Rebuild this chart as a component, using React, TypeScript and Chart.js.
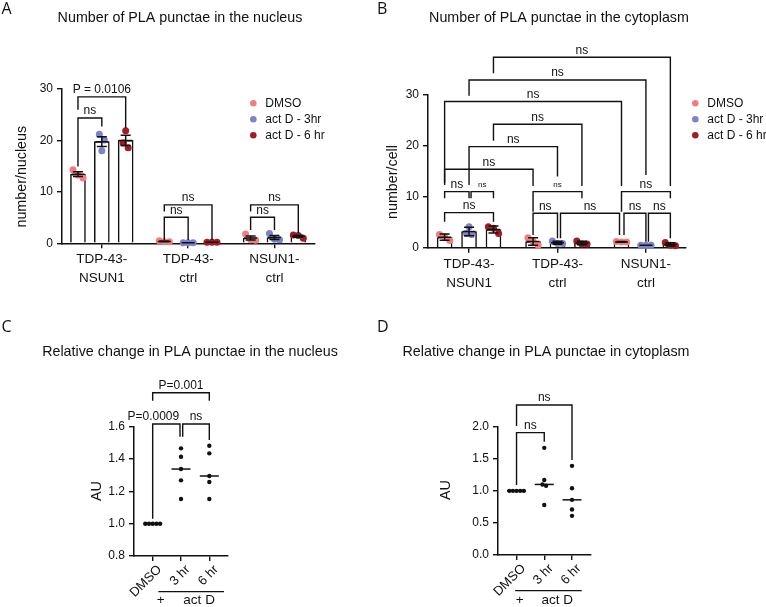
import React, { useEffect, useRef } from 'react';
import { Chart, registerables } from 'chart.js';

Chart.register(...registerables);

const SANS = '"Liberation Sans", Arial, Helvetica, sans-serif';
const LETTER = '"Open Sans", "Liberation Sans", sans-serif';
const INK = '#111111';

// ---- Panels A and B: PLA punctae per nucleus / per cell ----
const groupLabels = [['TDP-43-', 'NSUN1'], ['TDP-43-', 'ctrl'], ['NSUN1-', 'ctrl']];
const treatments = ['DMSO', 'act D - 3hr', 'act D - 6 hr'];
const treatmentColors = ['#F47C80', '#7E82CA', '#A31C24'];

// replicates, indexed [group][replicate]
const nucleusDMSO = [[14.3, 13.3, 12.7], [0.3, 0.5, 0.3], [1.8, 0.7, 0.6]];
const nucleusActD3 = [[21.2, 20.1, 18.0], [0.1, 0.1, 0.1], [1.9, 0.8, 0.7]];
const nucleusActD6 = [[21.9, 19.5, 18.6], [0.2, 0.2, 0.2], [1.6, 1.5, 1.0]];

const cytoDMSO = [[2.6, 2.15, 1.4], [1.95, 1.2, 0.5], [1.1, 1.2, 1.1]];
const cytoActD3 = [[4.1, 2.6, 2.8], [1.3, 0.8, 0.8], [0.5, 0.5, 0.5]];
const cytoActD6 = [[4.1, 3.8, 2.8], [1.3, 0.7, 0.7], [1.0, 0.4, 0.5]];

const nucleusTicks = [0, 10, 20, 30];
const cytoTicks = [0, 10, 20, 30];

// ---- Panels C and D: relative change (AU) ----
const relLabels = ['DMSO', '3 hr', '6 hr'];
const relNucDMSO = [1, 1, 1, 1, 1];
const relNuc3hr = [1.466, 1.414, 1.338, 1.268, 1.153];
const relNuc6hr = [1.482, 1.435, 1.295, 1.258, 1.153];

const relCytoDMSO = [1, 1, 1, 1, 1];
const relCyto3hr = [1.67, 1.17, 1.1, 1.08, 0.78];
const relCyto6hr = [1.39, 1.04, 0.86, 0.71, 0.61];

// bar slots: three treatments per cell line, a wider gap between cell lines
const GROUP_START = [0, 3.62, 7.24];

type Bracket = {
  from: number; to: number; y: number; yFrom: number; yTo: number; text: string;
  small?: boolean; dxFrom?: number; dxTo?: number; labelDx?: number;
};
type TextItem = {
  text: string; x?: number; xData?: number; y: number; size: number; family?: string;
  rotate?: number; align?: CanvasTextAlign; baseline?: CanvasTextBaseline;
};

// significance brackets (bar index / category index, heights in axis units)
const nucleusBrackets: Bracket[] = [
  { from: 0, to: 2, y: 28.46, yFrom: 25.98, yTo: 22.4, text: 'P = 0.0106' },
  { from: 0, to: 1, y: 24.37, yFrom: 14.93, yTo: 22.7, text: 'ns' },
  { from: 3, to: 5, y: 7.47, yFrom: 6.16, yTo: 0.64, text: 'ns' },
  { from: 3, to: 4, y: 5.07, yFrom: 0.64, yTo: 0.64, text: 'ns' },
  { from: 6, to: 8, y: 7.47, yFrom: 6.16, yTo: 1.95, text: 'ns' },
  { from: 6, to: 7, y: 5.07, yFrom: 2.6, yTo: 2.6, text: 'ns' },
];
const cytoBrackets: Bracket[] = [
  { from: 2, to: 8, y: 37.26, yFrom: 34.1, yTo: 12.07, text: 'ns' },
  { from: 1, to: 7, y: 32.8, yFrom: 29.7, yTo: 14.2, text: 'ns' },
  { from: 0, to: 6, y: 28.6, yFrom: 12.66, yTo: 12.07, text: 'ns' },
  { from: 2, to: 5, y: 24.15, yFrom: 20.9, yTo: 12.07, text: 'ns' },
  { from: 1, to: 4, y: 19.77, yFrom: 12.27, yTo: 13.9, text: 'ns' },
  { from: 0, to: 3, y: 15.34, yFrom: 12.27, yTo: 12.07, text: 'ns' },
  { from: 0, to: 1, y: 10.96, yFrom: 9.67, yTo: 9.67, text: 'ns' },
  { from: 1, to: 2, y: 10.96, yFrom: 9.67, yTo: 9.67, text: 'ns', small: true, dxFrom: 2 },
  { from: 0, to: 2, y: 6.85, yFrom: 5.09, yTo: 5.09, text: 'ns' },
  { from: 3, to: 5, y: 10.96, yFrom: 7.05, yTo: 9.67, text: 'ns', small: true },
  { from: 3, to: 4, y: 6.73, yFrom: 2.49, yTo: 1.84, text: 'ns' },
  { from: 4, to: 6, y: 6.73, yFrom: 1.84, yTo: 2.49, text: 'ns', dxFrom: 3, dxTo: -2 },
  { from: 6, to: 8, y: 10.96, yFrom: 7.05, yTo: 9.67, text: 'ns' },
  { from: 6, to: 7, y: 6.73, yFrom: 2.49, yTo: 1.17, text: 'ns', dxFrom: 2.5 },
  { from: 7, to: 8, y: 6.73, yFrom: 1.17, yTo: 1.84, text: 'ns', dxFrom: 2.5 },
];
const relNucBrackets: Bracket[] = [
  { from: 0, to: 2, y: 1.81, yFrom: 1.761, yTo: 1.761, text: 'P=0.001' },
  { from: 0, to: 1, y: 1.617, yFrom: 1.03, yTo: 1.538, text: 'P=0.0009', dxTo: -1, labelDx: -13 },
  { from: 1, to: 2, y: 1.617, yFrom: 1.538, yTo: 1.518, text: 'ns', dxFrom: 1.7 },
];
const relCytoBrackets: Bracket[] = [
  { from: 0, to: 2, y: 2.338, yFrom: 2.01, yTo: 1.48, text: 'ns' },
  { from: 0, to: 1, y: 1.907, yFrom: 1.09, yTo: 1.766, text: 'ns' },
];

const mean = (v: number[]) => v.reduce((a, b) => a + b, 0) / v.length;
const sd = (v: number[]) => {
  const m = mean(v);
  return Math.sqrt(v.reduce((a, b) => a + (b - m) ** 2, 0) / (v.length - 1));
};
const sem = (v: number[]) => sd(v) / Math.sqrt(v.length);
const median = (v: number[]) => {
  const s = [...v].sort((a, b) => a - b);
  const n = s.length;
  return n % 2 ? s[(n - 1) / 2] : (s[n / 2 - 1] + s[n / 2]) / 2;
};

// spread near-equal values sideways so the dots stay visible
function spreadLanes(values: number[], tol: number): number[] {
  const idx = values.map((_, i) => i).sort((a, b) => values[b] - values[a]);
  const lanes = new Array(values.length).fill(0);
  let start = 0;
  for (let k = 1; k <= idx.length; k++) {
    if (k === idx.length || values[idx[k - 1]] - values[idx[k]] >= tol) {
      const n = k - start;
      for (let j = 0; j < n; j++) lanes[idx[start + j]] = j - (n - 1) / 2;
      start = k;
    }
  }
  return lanes;
}

type Overlay = {
  positions: number[];
  errorBars?: { x: number; mean: number; err: number }[];
  medians?: { x: number; y: number }[];
  brackets: Bracket[];
  texts: TextItem[];
  rules?: { x1: number; x2: number; y: number }[];
  legend?: { x: number; y: number; step: number };
};

function overlayPlugin(spec: Overlay) {
  return {
    id: 'overlay',
    afterDatasetsDraw(chart: any) {
      const ctx: CanvasRenderingContext2D = chart.ctx;
      const xs = chart.scales.x;
      const ys = chart.scales.y;
      ctx.save();
      ctx.strokeStyle = INK;
      ctx.lineWidth = 1.5;
      (spec.errorBars || []).forEach((e) => {
        const x = xs.getPixelForValue(e.x);
        const y1 = ys.getPixelForValue(e.mean + e.err);
        const y0 = ys.getPixelForValue(Math.max(e.mean - e.err, 0));
        const ym = ys.getPixelForValue(e.mean);
        ctx.beginPath();
        ctx.moveTo(x, y1); ctx.lineTo(x, y0);
        ctx.moveTo(x - 5, y1); ctx.lineTo(x + 5, y1);
        ctx.moveTo(x - 5, y0); ctx.lineTo(x + 5, y0);
        ctx.moveTo(x - 6.5, ym); ctx.lineTo(x + 6.5, ym);
        ctx.stroke();
      });
      (spec.medians || []).forEach((m) => {
        const x = xs.getPixelForValue(m.x);
        const y = ys.getPixelForValue(m.y);
        ctx.beginPath();
        ctx.moveTo(x - 9.5, y); ctx.lineTo(x + 9.5, y);
        ctx.stroke();
      });
      ctx.restore();
    },
    afterDraw(chart: any) {
      const ctx: CanvasRenderingContext2D = chart.ctx;
      const xs = chart.scales.x;
      const ys = chart.scales.y;
      ctx.save();
      ctx.strokeStyle = INK;
      ctx.fillStyle = INK;
      ctx.lineWidth = 1.4;
      ctx.lineJoin = 'miter';
      spec.brackets.forEach((b) => {
        const x1 = xs.getPixelForValue(spec.positions[b.from]) + (b.dxFrom || 0);
        const x2 = xs.getPixelForValue(spec.positions[b.to]) + (b.dxTo || 0);
        const y = ys.getPixelForValue(b.y);
        ctx.beginPath();
        ctx.moveTo(x1, ys.getPixelForValue(b.yFrom));
        ctx.lineTo(x1, y);
        ctx.lineTo(x2, y);
        ctx.lineTo(x2, ys.getPixelForValue(b.yTo));
        ctx.stroke();
        ctx.font = `${b.small ? 8 : 12}px ${SANS}`;
        ctx.textAlign = 'center';
        ctx.textBaseline = 'alphabetic';
        ctx.fillText(b.text, (x1 + x2) / 2 + (b.labelDx || 0), y - (b.small ? 5 : 3.6));
      });
      ctx.lineWidth = 1.2;
      (spec.rules || []).forEach((r) => {
        ctx.beginPath();
        ctx.moveTo(xs.getPixelForValue(r.x1), r.y);
        ctx.lineTo(xs.getPixelForValue(r.x2), r.y);
        ctx.stroke();
      });
      spec.texts.forEach((t) => {
        const x = t.xData !== undefined ? xs.getPixelForValue(t.xData) : (t.x as number);
        ctx.save();
        ctx.translate(x, t.y);
        if (t.rotate) ctx.rotate((t.rotate * Math.PI) / 180);
        ctx.font = `${t.size}px ${t.family || SANS}`;
        ctx.textAlign = t.align || 'center';
        ctx.textBaseline = t.baseline || 'alphabetic';
        ctx.fillStyle = INK;
        ctx.fillText(t.text, 0, 0);
        ctx.restore();
      });
      if (spec.legend) {
        const lg = spec.legend;
        chart.data.datasets
          .filter((d: any) => d.type === 'scatter')
          .forEach((d: any, i: number) => {
            const y = lg.y + i * lg.step;
            ctx.beginPath();
            ctx.fillStyle = d.backgroundColor;
            ctx.arc(lg.x, y, 3.3, 0, Math.PI * 2);
            ctx.fill();
            ctx.fillStyle = INK;
            ctx.font = `12px ${SANS}`;
            ctx.textAlign = 'left';
            ctx.textBaseline = 'middle';
            ctx.fillText(d.label, lg.x + 12, y + 0.5);
          });
      }
      ctx.restore();
    },
  };
}

type Area = { left: number; right: number; top: number; bottom: number };

function axisCommon(area: Area, w: number, h: number) {
  return {
    y: {
      grid: { drawOnChartArea: false, drawTicks: true, tickLength: 5, color: INK, lineWidth: 1.4 },
      border: { color: INK, width: 1.5 },
      afterFit: (s: any) => { s.width = area.left; },
    },
    x: {
      offset: false,
      grid: { offset: false, drawOnChartArea: false, drawTicks: true, tickLength: 5, color: INK, lineWidth: 1.4 },
      border: { color: INK, width: 1.5 },
      afterFit: (s: any) => { s.height = h - area.bottom; },
    },
    padding: { left: 0, top: area.top, right: w - area.right, bottom: 0 },
  };
}

function barPanel(opts: {
  series: number[][][]; err: (v: number[]) => number; ticks: number[];
  area: Area; w: number; h: number; xRange: [number, number];
  brackets: Bracket[]; texts: TextItem[]; legend: { x: number; y: number; step: number };
  tol: number; lane: number;
}) {
  const positions: number[] = [];
  GROUP_START.forEach((g) => [0, 1, 2].forEach((t) => positions.push(g + t)));
  const errorBars: { x: number; mean: number; err: number }[] = [];
  const bars: any[] = [];
  const dots: any[] = [];
  opts.series.forEach((byGroup, t) => {
    bars.push({
      type: 'bar',
      label: `${treatments[t]} mean`,
      data: byGroup.map((reps, g) => ({ x: GROUP_START[g] + t, y: mean(reps) })),
      backgroundColor: '#ffffff',
      borderColor: INK,
      borderWidth: 1.5,
      barThickness: 15,
      grouped: false,
      order: 2,
    });
    const pts: { x: number; y: number }[] = [];
    byGroup.forEach((reps, g) => {
      const lanes = spreadLanes(reps, opts.tol);
      reps.forEach((v, k) => pts.push({ x: GROUP_START[g] + t + lanes[k] * opts.lane, y: v }));
      errorBars.push({ x: GROUP_START[g] + t, mean: mean(reps), err: opts.err(reps) });
    });
    dots.push({
      type: 'scatter',
      label: treatments[t],
      data: pts,
      backgroundColor: treatmentColors[t],
      borderWidth: 0,
      pointRadius: 3.5,
      clip: false,
      order: 1,
    });
  });
  const ax = axisCommon(opts.area, opts.w, opts.h);
  const centers = GROUP_START.map((g) => g + 1);
  return {
    type: 'bar',
    data: { datasets: [...dots, ...bars] },
    options: {
      responsive: false,
      animation: false,
      devicePixelRatio: 1,
      layout: { padding: ax.padding },
      plugins: { legend: { display: false }, tooltip: { enabled: false }, title: { display: false } },
      scales: {
        x: {
          type: 'linear',
          min: opts.xRange[0],
          max: opts.xRange[1],
          afterBuildTicks: (s: any) => { s.ticks = centers.map((v) => ({ value: v })); },
          ticks: {
            autoSkip: false, maxRotation: 0, minRotation: 0, padding: 2,
            color: INK, font: { family: SANS, size: 13.5, lineHeight: 1.4 },
            callback: (_v: any, i: number) => groupLabels[i],
          },
          ...ax.x,
        },
        y: {
          type: 'linear',
          min: opts.ticks[0],
          max: opts.ticks[opts.ticks.length - 1],
          afterBuildTicks: (s: any) => { s.ticks = opts.ticks.map((v) => ({ value: v })); },
          ticks: { padding: 4, color: INK, font: { family: SANS, size: 12 } },
          ...ax.y,
        },
      },
    },
    plugins: [overlayPlugin({ positions, errorBars, brackets: opts.brackets, texts: opts.texts, legend: opts.legend })],
  };
}

function dotPanel(opts: {
  series: number[][]; ticks: number[]; area: Area; w: number; h: number; xRange: [number, number];
  brackets: Bracket[]; texts: TextItem[]; rule: { x1: number; x2: number; y: number };
  tol: number; lane: number;
}) {
  const medians = opts.series.map((v, i) => ({ x: i, y: median(v) }));
  const datasets = opts.series.map((vals, i) => {
    const lanes = spreadLanes(vals, opts.tol);
    return {
      type: 'scatter',
      label: relLabels[i],
      data: vals.map((v, k) => ({ x: i + lanes[k] * opts.lane, y: v })),
      backgroundColor: INK,
      borderWidth: 0,
      pointRadius: 2.2,
      clip: false,
    };
  });
  const ax = axisCommon(opts.area, opts.w, opts.h);
  return {
    type: 'scatter',
    data: { datasets },
    options: {
      responsive: false,
      animation: false,
      devicePixelRatio: 1,
      layout: { padding: ax.padding },
      plugins: { legend: { display: false }, tooltip: { enabled: false }, title: { display: false } },
      scales: {
        x: {
          type: 'linear',
          min: opts.xRange[0],
          max: opts.xRange[1],
          afterBuildTicks: (s: any) => { s.ticks = relLabels.map((_, i) => ({ value: i })); },
          ticks: {
            autoSkip: false, maxRotation: 45, minRotation: 45, padding: 1, labelOffset: 7,
            color: INK, font: { family: SANS, size: 13 },
            callback: (_v: any, i: number) => relLabels[i],
          },
          ...ax.x,
        },
        y: {
          type: 'linear',
          min: opts.ticks[0],
          max: opts.ticks[opts.ticks.length - 1],
          afterBuildTicks: (s: any) => { s.ticks = opts.ticks.map((v) => ({ value: v })); },
          ticks: { padding: 4, color: INK, font: { family: SANS, size: 12 }, callback: (v: any) => Number(v).toFixed(1) },
          ...ax.y,
        },
      },
    },
    plugins: [overlayPlugin({ positions: [0, 1, 2], medians, brackets: opts.brackets, texts: opts.texts, rules: [opts.rule] })],
  };
}

const panelA = () => barPanel({
  series: [nucleusDMSO, nucleusActD3, nucleusActD6], err: sem, ticks: nucleusTicks,
  area: { left: 62, right: 315, top: 89, bottom: 243.3 }, w: 370, h: 300, xRange: [-0.67, 9.94],
  brackets: nucleusBrackets, legend: { x: 253.3, y: 103.3, step: 16 }, tol: 1.2, lane: 0.21,
  texts: [
    { text: 'A', x: 1.5, y: 14, size: 16, family: LETTER, align: 'left' },
    { text: 'Number of PLA punctae in the nucleus', x: 180, y: 21.7, size: 14.3 },
    { text: 'number/nucleus', x: 22, y: 176.7, size: 14.3, rotate: -90, baseline: 'middle' },
  ],
});

const panelB = () => barPanel({
  series: [cytoDMSO, cytoActD3, cytoActD6], err: sd, ticks: cytoTicks,
  area: { left: 58, right: 316, top: 94.3, bottom: 247.7 }, w: 396, h: 300, xRange: [-0.68, 9.88],
  brackets: cytoBrackets, legend: { x: 325.3, y: 103.3, step: 16 }, tol: 1.2, lane: 0.21,
  texts: [
    { text: 'B', x: 7, y: 14, size: 16, family: LETTER, align: 'left' },
    { text: 'Number of PLA punctae in the cytoplasm', x: 189, y: 21.7, size: 14.3 },
    { text: 'number/cell', x: 23, y: 182, size: 14.3, rotate: -90, baseline: 'middle' },
  ],
});

const panelC = () => dotPanel({
  series: [relNucDMSO, relNuc3hr, relNuc6hr], ticks: [0.8, 1.0, 1.2, 1.4, 1.6],
  area: { left: 134, right: 228, top: 126.7, bottom: 256 }, w: 370, h: 307, xRange: [-0.66, 2.66],
  brackets: relNucBrackets, tol: 0.02, lane: 0.13, rule: { x1: 0.2, x2: 2.52, y: 291.7 },
  texts: [
    { text: 'C', x: 1.5, y: 32, size: 16, family: LETTER, align: 'left' },
    { text: 'Relative change in PLA punctae in the nucleus', x: 190, y: 56, size: 14.3 },
    { text: 'AU', x: 96.7, y: 191, size: 14.3, rotate: -90, baseline: 'middle' },
    { text: '+', xData: 0.28, y: 300.5, size: 13.5, baseline: 'middle' },
    { text: 'act D', xData: 1.64, y: 300.5, size: 13.5, baseline: 'middle' },
  ],
});

const panelD = () => dotPanel({
  series: [relCytoDMSO, relCyto3hr, relCyto6hr], ticks: [0, 0.5, 1.0, 1.5, 2.0],
  area: { left: 128, right: 220.3, top: 126.7, bottom: 255 }, w: 396, h: 307, xRange: [-0.668, 2.66],
  brackets: relCytoBrackets, tol: 0.05, lane: 0.13, rule: { x1: -0.05, x2: 2.35, y: 290.7 },
  texts: [
    { text: 'D', x: 7, y: 32, size: 16, family: LETTER, align: 'left' },
    { text: 'Relative change in PLA punctae in cytoplasm', x: 176, y: 56, size: 14.3 },
    { text: 'AU', x: 76.3, y: 190, size: 14.3, rotate: -90, baseline: 'middle' },
    { text: '+', xData: 0.11, y: 300.5, size: 13.5, baseline: 'middle' },
    { text: 'act D', xData: 1.47, y: 300.5, size: 13.5, baseline: 'middle' },
  ],
});

function ChartCanvas(props: { make: () => any; left: number; top: number; width: number; height: number }) {
  const ref = useRef<HTMLCanvasElement>(null);
  useEffect(() => {
    const chart = new Chart(ref.current as HTMLCanvasElement, props.make());
    return () => chart.destroy();
  }, []);
  return (
    <canvas
      ref={ref}
      width={props.width}
      height={props.height}
      style={{ position: 'absolute', left: props.left, top: props.top, width: props.width, height: props.height }}
    />
  );
}

export default function App() {
  return (
    <div style={{ position: 'absolute', left: 0, top: 0, width: 766, height: 607, background: '#ffffff', overflow: 'hidden' }}>
      <ChartCanvas make={panelA} left={0} top={0} width={370} height={300} />
      <ChartCanvas make={panelB} left={370} top={0} width={396} height={300} />
      <ChartCanvas make={panelC} left={0} top={300} width={370} height={307} />
      <ChartCanvas make={panelD} left={370} top={300} width={396} height={307} />
    </div>
  );
}
